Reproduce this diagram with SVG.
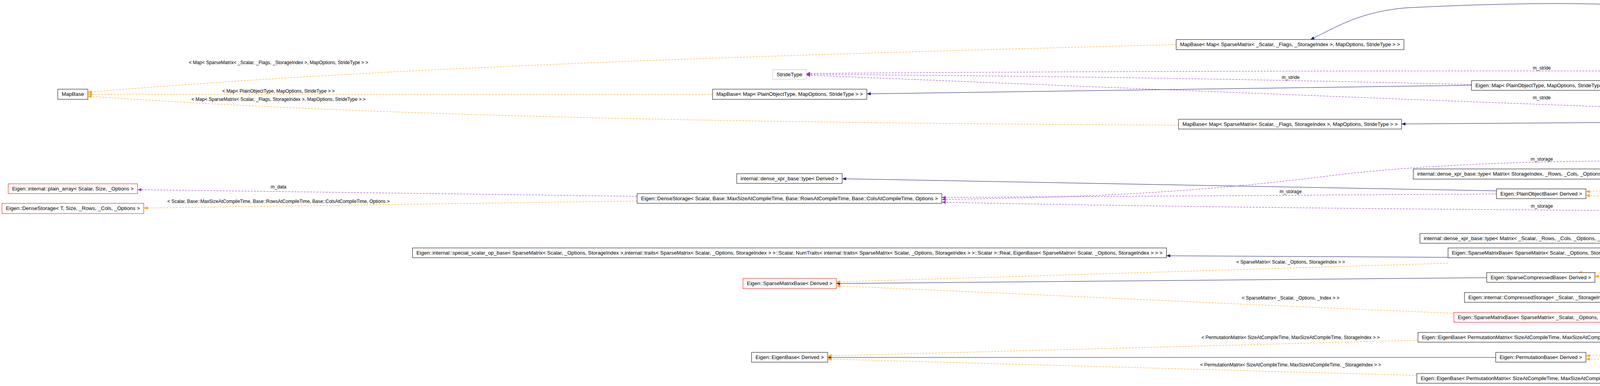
<svg xmlns="http://www.w3.org/2000/svg" width="7453" height="987" viewBox="0 0 7453 987">
<style>
.n rect{fill:#fff;stroke:#000;stroke-width:1}
.n text{font-family:"Liberation Sans",Arial,sans-serif;font-size:12px;text-anchor:middle;fill:#000}
.r rect{stroke:#f00}
.g rect{stroke:#bfbfbf}
.h rect{fill:#bfbfbf}
.e{fill:none;stroke-width:1}
.nv{stroke:#191970}
.dr{stroke:#8b1a1a}
.or{stroke:#ffa500;stroke-dasharray:5,3}
.pu{stroke:#9a32cd;stroke-dasharray:5,3}
.l{font-family:"Liberation Sans",Arial,sans-serif;font-size:12px;text-anchor:middle;fill:#000}
</style>
<defs>
<marker id="anv" viewBox="0 0 10 8" refX="10" refY="4" markerWidth="10" markerHeight="8" markerUnits="userSpaceOnUse" orient="auto"><path d="M0,0L10,4L0,8z" fill="#191970"/></marker>
<marker id="adr" viewBox="0 0 10 8" refX="10" refY="4" markerWidth="10" markerHeight="8" markerUnits="userSpaceOnUse" orient="auto"><path d="M0,0L10,4L0,8z" fill="#8b1a1a"/></marker>
<marker id="aor" viewBox="0 0 10 8" refX="10" refY="4" markerWidth="10" markerHeight="8" markerUnits="userSpaceOnUse" orient="auto"><path d="M0,0L10,4L0,8z" fill="#ffa500"/></marker>
<marker id="apu" viewBox="0 0 10 8" refX="10" refY="4" markerWidth="10" markerHeight="8" markerUnits="userSpaceOnUse" orient="auto"><path d="M0,0L10,4L0,8z" fill="#9a32cd"/></marker>
</defs>
<rect width="7453" height="987" fill="#fff"/>
<g id="edges">
<path class="e nv" marker-end="url(#anv)" d="M5050,205 C4900,200 4870,190 4830,160 C4600,-10 4000,0 3600,20 C3480,30 3420,70 3355,101"/>
<path class="e nv" marker-end="url(#anv)" d="M3767,218 L2219,240"/>
<path class="e nv" marker-end="url(#anv)" d="M4983,307 L3588,317"/>
<path class="e nv" marker-end="url(#anv)" d="M5720,281 C5500,260 5400,230 5241,206"/>
<path class="e nv" marker-end="url(#anv)" d="M6576,341 L5366,313"/>
<path class="e nv" marker-end="url(#anv)" d="M3831,488 L2156,457"/>
<path class="e nv" marker-end="url(#anv)" d="M4868,443 L4271,443"/>
<path class="e nv" marker-end="url(#anv)" d="M6634,488 L5481,447"/>
<path class="e nv" marker-end="url(#anv)" d="M5003,554 L4240,596"/>
<path class="e nv" marker-end="url(#anv)" d="M5654,515 L5407,529"/>
<path class="e nv" marker-end="url(#anv)" d="M3707,658 L2986,654"/>
<path class="e nv" marker-end="url(#anv)" d="M4917,646 L4184,656"/>
<path class="e nv" marker-end="url(#anv)" d="M6599,665 L5432,647"/>
<path class="e nv" marker-end="url(#anv)" d="M3806,710 L2141,725"/>
<path class="e nv" marker-end="url(#anv)" d="M4970,785 L4168,809"/>
<path class="e nv" marker-end="url(#anv)" d="M5727,759 L5417,767"/>
<path class="e nv" marker-end="url(#anv)" d="M3829,914 L2119,914"/>
<path class="e nv" marker-end="url(#anv)" d="M4841,846 L4260,858"/>
<path class="e nv" marker-end="url(#anv)" d="M6576,828 L5508,840"/>
<path class="e nv" marker-end="url(#anv)" d="M4837,938 L4262,957"/>
<path class="e nv" marker-end="url(#anv)" d="M5697,889 L5358,913"/>
<path class="e nv" marker-end="url(#anv)" d="M7277,435 C7200,350 7100,250 6897,206"/>
<path class="e nv" marker-end="url(#anv)" d="M7262,435 C7150,370 7080,330 7040,315 C6980,295 6920,290 6863,283"/>
<path class="e dr" marker-end="url(#adr)" d="M5764,183 L5268,148"/>
<path class="e dr" marker-end="url(#adr)" d="M6615,179 L5268,141"/>
<path class="e or" marker-end="url(#aor)" d="M3011,114 C2000,140 1000,170 225,236"/>
<path class="e or" marker-end="url(#aor)" d="M1824,241 L225,241"/>
<path class="e or" marker-end="url(#aor)" d="M3017,320 C2000,315 1000,300 225,246"/>
<path class="e or" marker-end="url(#aor)" d="M1631,514 L368,532"/>
<path class="e or" marker-end="url(#aor)" d="M4976,197 L4124,214"/>
<path class="e or" marker-end="url(#aor)" d="M5070,293 C4700,270 4400,240 4124,226"/>
<path class="e or" marker-end="url(#aor)" d="M4930,453 L4060,490"/>
<path class="e or" marker-end="url(#aor)" d="M4884,531 L4060,500"/>
<path class="e or" marker-end="url(#aor)" d="M3707,673 L2141,721"/>
<path class="e or" marker-end="url(#aor)" d="M3722,801 C3200,780 2600,750 2141,731"/>
<path class="e or" marker-end="url(#aor)" d="M5050,654 L4083,707"/>
<path class="e or" marker-end="url(#aor)" d="M4932,782 C4600,795 4300,800 4290,770 C4280,720 4180,695 4040,697"/>
<path class="e or" marker-end="url(#aor)" d="M4985,729 L4140,755"/>
<path class="e or" marker-end="url(#aor)" d="M3630,870 L2119,910"/>
<path class="e or" marker-end="url(#aor)" d="M3627,960 L2119,918"/>
<path class="e or" marker-end="url(#aor)" d="M5040,857 L4060,910"/>
<path class="e or" marker-end="url(#aor)" d="M4837,925 L4060,918"/>
<path class="e or" marker-end="url(#aor)" d="M6550,192 L6003,192"/>
<path class="e or" marker-end="url(#aor)" d="M6521,260 L6055,247"/>
<path class="e or" marker-end="url(#aor)" d="M6580,331 L6081,303"/>
<path class="e or" marker-end="url(#aor)" d="M6634,500 L6113,501"/>
<path class="e or" marker-end="url(#aor)" d="M6720,680 C6550,730 6300,755 6041,755"/>
<path class="e or" marker-end="url(#aor)" d="M6675,838 L6159,873"/>
<path class="e or" marker-end="url(#aor)" d="M6567,910 L6096,922"/>
<path class="e pu" marker-end="url(#apu)" d="M3767,216 C3300,205 2800,195 2064,190"/>
<path class="e pu" marker-end="url(#apu)" d="M4976,184 C4200,180 3000,180 2064,188"/>
<path class="e pu" marker-end="url(#apu)" d="M4983,302 C4200,280 3000,230 2064,192"/>
<path class="e pu" marker-end="url(#apu)" d="M1631,502 L352,485"/>
<path class="e pu" marker-end="url(#apu)" d="M3831,496 L2411,505"/>
<path class="e pu" marker-end="url(#apu)" d="M4950,428 C4400,405 3800,400 3400,450 C3000,500 2700,505 2411,510"/>
<path class="e pu" marker-end="url(#apu)" d="M4884,541 C4000,540 3000,530 2411,517"/>
<path class="e pu" marker-end="url(#apu)" d="M6599,673 C6000,685 5600,700 5363,715"/>
<path class="e pu" marker-end="url(#apu)" d="M5727,748 L5363,731"/>
<path class="e pu" marker-end="url(#apu)" d="M7260,435 C7150,410 7050,390 6925,357"/>
<path class="e pu" marker-end="url(#apu)" d="M7180,435 C7100,425 7000,418 6925,411"/>
<path class="e pu" marker-end="url(#apu)" d="M7137,447 L6859,447"/>
<path class="e pu" marker-end="url(#apu)" d="M7180,460 C7100,468 7000,478 6908,485"/>
<path class="e pu" marker-end="url(#apu)" d="M7260,460 C7100,540 6900,600 6805,655"/>
<path class="e pu" marker-end="url(#apu)" d="M7270,460 C7150,580 7000,720 6805,812"/>
<path class="e pu" marker-end="url(#apu)" d="M7285,460 C7230,650 7150,850 6940,889"/>
</g>
<g id="labels">
<text class="l" x="713" y="164">&lt; Map&lt; SparseMatrix&lt; _Scalar, _Flags, _StorageIndex &gt;, MapOptions, StrideType &gt; &gt;</text>
<text class="l" x="713" y="237">&lt; Map&lt; PlainObjectType, MapOptions, StrideType &gt; &gt;</text>
<text class="l" x="713" y="258">&lt; Map&lt; SparseMatrix&lt; Scalar, _Flags, StorageIndex &gt;, MapOptions, StrideType &gt; &gt;</text>
<text class="l" x="713" y="482">m_data</text>
<text class="l" x="713" y="519">&lt; Scalar, Base::MaxSizeAtCompileTime, Base::RowsAtCompileTime, Base::ColsAtCompileTime, Options &gt;</text>
<text class="l" x="3304" y="202">m_stride</text>
<text class="l" x="3304" y="494">m_storage</text>
<text class="l" x="3304" y="674">&lt; SparseMatrix&lt; Scalar, _Options, StorageIndex &gt; &gt;</text>
<text class="l" x="3304" y="766">&lt; SparseMatrix&lt; _Scalar, _Options, _Index &gt; &gt;</text>
<text class="l" x="3304" y="867">&lt; PermutationMatrix&lt; SizeAtCompileTime, MaxSizeAtCompileTime, StorageIndex &gt; &gt;</text>
<text class="l" x="3304" y="937">&lt; PermutationMatrix&lt; SizeAtCompileTime, MaxSizeAtCompileTime, _StorageIndex &gt; &gt;</text>
<text class="l" x="3947" y="178">m_stride</text>
<text class="l" x="4555" y="195">&lt; SparseMatrix&lt; _Scalar, _Flags, _StorageIndex &gt; &gt;</text>
<text class="l" x="4555" y="231">&lt; SparseMatrix&lt; Scalar, _Flags, StorageIndex &gt; &gt;</text>
<text class="l" x="3947" y="254">m_stride</text>
<text class="l" x="3947" y="411">m_storage</text>
<text class="l" x="4555" y="455">&lt; Matrix&lt; StorageIndex, _Rows, _Cols, _Options, _MaxRows, _MaxCols &gt; &gt;</text>
<text class="l" x="4555" y="506">&lt; Matrix&lt; _Scalar, _Rows, _Cols, _Options, _MaxRows, _MaxCols &gt; &gt;</text>
<text class="l" x="3947" y="531">m_storage</text>
<text class="l" x="4555" y="672">&lt; SparseMatrix&lt; Scalar, _Options, StorageIndex &gt; &gt;</text>
<text class="l" x="4555" y="730">&lt; Scalar, StorageIndex &gt;</text>
<text class="l" x="4555" y="765">&lt; SparseMatrix&lt; _Scalar, _Options, _Index &gt; &gt;</text>
<text class="l" x="4555" y="873">&lt; PermutationMatrix&lt; SizeAtCompileTime, MaxSizeAtCompileTime, StorageIndex &gt; &gt;</text>
<text class="l" x="4555" y="919">&lt; PermutationMatrix&lt; SizeAtCompileTime, MaxSizeAtCompileTime, _StorageIndex &gt; &gt;</text>
<text class="l" x="6341" y="188">&lt; SparseLU&lt; _MatrixType, _OrderingType &gt; &gt;</text>
<text class="l" x="6341" y="248">&lt; _MatrixType::Scalar, _MatrixType::StorageIndex &gt;</text>
<text class="l" x="6341" y="306">&lt; Scalar, ColMajor, StorageIndex &gt;</text>
<text class="l" x="6341" y="495">&lt; StorageIndex, Dynamic, 1 &gt;</text>
<text class="l" x="5886" y="686">m_data</text>
<text class="l" x="5562" y="737">m_data</text>
<text class="l" x="6341" y="723">&lt; Scalar, ColMajor, StorageIndex &gt;</text>
<text class="l" x="6341" y="854">&lt; Dynamic, Dynamic, StorageIndex &gt;</text>
<text class="l" x="6341" y="907">&lt; Scalar, StorageIndex &gt;</text>
<text class="l" x="7082" y="375">m_Ustore</text>
<text class="l" x="7082" y="419">m_glu</text>
<text class="l" x="7082" y="443">m_perfv</text>
<text class="l" x="7082" y="463">m_etree</text>
<text class="l" x="7082" y="523">m_mat</text>
<text class="l" x="7082" y="608">m_perm_r</text>
<text class="l" x="7082" y="623">m_perm_c</text>
<text class="l" x="7082" y="769">m_Lstore</text>
</g>
<g id="n1" class="n"><rect x="148" y="228" width="77" height="26"/><text x="186.5" y="245" textLength="57" lengthAdjust="spacingAndGlyphs">MapBase</text></g>
<g id="n2" class="n r"><rect x="21" y="470" width="331" height="25"/><text x="186.5" y="487" textLength="311" lengthAdjust="spacingAndGlyphs">Eigen::internal::plain_array&lt; Scalar, Size, _Options &gt;</text></g>
<g id="n3" class="n r"><rect x="5" y="520" width="363" height="26"/><text x="186.5" y="537" textLength="343" lengthAdjust="spacingAndGlyphs">Eigen::DenseStorage&lt; T, Size, _Rows, _Cols, _Options &gt;</text></g>
<g id="n4" class="n"><rect x="1056" y="634" width="1930" height="25"/><text x="2021" y="651" textLength="1910" lengthAdjust="spacingAndGlyphs">Eigen::internal::special_scalar_op_base&lt; SparseMatrix&lt; Scalar, _Options, StorageIndex &gt;,internal::traits&lt; SparseMatrix&lt; Scalar, _Options, StorageIndex &gt; &gt;::Scalar, NumTraits&lt; internal::traits&lt; SparseMatrix&lt; Scalar, _Options, StorageIndex &gt; &gt;::Scalar &gt;::Real, EigenBase&lt; SparseMatrix&lt; Scalar, _Options, StorageIndex &gt; &gt; &gt;</text></g>
<g id="n5" class="n g"><rect x="1978" y="178" width="86" height="25"/><text x="2021" y="195" textLength="66" lengthAdjust="spacingAndGlyphs">StrideType</text></g>
<g id="n6" class="n"><rect x="1824" y="228" width="395" height="26"/><text x="2021.5" y="245" textLength="375" lengthAdjust="spacingAndGlyphs">MapBase&lt; Map&lt; PlainObjectType, MapOptions, StrideType &gt; &gt;</text></g>
<g id="n7" class="n"><rect x="1886" y="444" width="270" height="25"/><text x="2021" y="461" textLength="250" lengthAdjust="spacingAndGlyphs">internal::dense_xpr_base::type&lt; Derived &gt;</text></g>
<g id="n8" class="n"><rect x="1631" y="495" width="780" height="25"/><text x="2021" y="512" textLength="760" lengthAdjust="spacingAndGlyphs">Eigen::DenseStorage&lt; Scalar, Base::MaxSizeAtCompileTime, Base::RowsAtCompileTime, Base::ColsAtCompileTime, Options &gt;</text></g>
<g id="n9" class="n r"><rect x="1902" y="712" width="239" height="26"/><text x="2021.5" y="729" textLength="219" lengthAdjust="spacingAndGlyphs">Eigen::SparseMatrixBase&lt; Derived &gt;</text></g>
<g id="n10" class="n"><rect x="1924" y="901" width="195" height="25"/><text x="2021.5" y="918" textLength="175" lengthAdjust="spacingAndGlyphs">Eigen::EigenBase&lt; Derived &gt;</text></g>
<g id="n11" class="n"><rect x="3011" y="101" width="583" height="26"/><text x="3302.5" y="118" textLength="563" lengthAdjust="spacingAndGlyphs">MapBase&lt; Map&lt; SparseMatrix&lt; _Scalar, _Flags, _StorageIndex &gt;, MapOptions, StrideType &gt; &gt;</text></g>
<g id="n12" class="n"><rect x="3767" y="206" width="357" height="25"/><text x="3945.5" y="223" textLength="337" lengthAdjust="spacingAndGlyphs">Eigen::Map&lt; PlainObjectType, MapOptions, StrideType &gt;</text></g>
<g id="n13" class="n"><rect x="3017" y="305" width="571" height="25"/><text x="3302.5" y="322" textLength="551" lengthAdjust="spacingAndGlyphs">MapBase&lt; Map&lt; SparseMatrix&lt; Scalar, _Flags, StorageIndex &gt;, MapOptions, StrideType &gt; &gt;</text></g>
<g id="n14" class="n"><rect x="3618" y="432" width="653" height="26"/><text x="3944.5" y="449" textLength="633" lengthAdjust="spacingAndGlyphs">internal::dense_xpr_base::type&lt; Matrix&lt; StorageIndex, _Rows, _Cols, _Options, _MaxRows, _MaxCols &gt; &gt;</text></g>
<g id="n15" class="n"><rect x="3831" y="483" width="229" height="25"/><text x="3945.5" y="500" textLength="209" lengthAdjust="spacingAndGlyphs">Eigen::PlainObjectBase&lt; Derived &gt;</text></g>
<g id="n16" class="n"><rect x="3635" y="597" width="620" height="25"/><text x="3945" y="614" textLength="600" lengthAdjust="spacingAndGlyphs">internal::dense_xpr_base::type&lt; Matrix&lt; _Scalar, _Rows, _Cols, _Options, _MaxRows, _MaxCols &gt; &gt;</text></g>
<g id="n17" class="n"><rect x="3707" y="634" width="477" height="25"/><text x="3945.5" y="651" textLength="457" lengthAdjust="spacingAndGlyphs">Eigen::SparseMatrixBase&lt; SparseMatrix&lt; Scalar, _Options, StorageIndex &gt; &gt;</text></g>
<g id="n18" class="n"><rect x="3806" y="697" width="277" height="25"/><text x="3944.5" y="714" textLength="257" lengthAdjust="spacingAndGlyphs">Eigen::SparseCompressedBase&lt; Derived &gt;</text></g>
<g id="n19" class="n"><rect x="3749" y="748" width="391" height="25"/><text x="3944.5" y="765" textLength="371" lengthAdjust="spacingAndGlyphs">Eigen::internal::CompressedStorage&lt; _Scalar, _StorageIndex &gt;</text></g>
<g id="n20" class="n r"><rect x="3722" y="799" width="446" height="25"/><text x="3945" y="816" textLength="426" lengthAdjust="spacingAndGlyphs">Eigen::SparseMatrixBase&lt; SparseMatrix&lt; _Scalar, _Options, _Index &gt; &gt;</text></g>
<g id="n21" class="n"><rect x="3630" y="850" width="630" height="25"/><text x="3945" y="867" textLength="610" lengthAdjust="spacingAndGlyphs">Eigen::EigenBase&lt; PermutationMatrix&lt; SizeAtCompileTime, MaxSizeAtCompileTime, StorageIndex &gt; &gt;</text></g>
<g id="n22" class="n"><rect x="3829" y="901" width="231" height="25"/><text x="3944.5" y="918" textLength="211" lengthAdjust="spacingAndGlyphs">Eigen::PermutationBase&lt; Derived &gt;</text></g>
<g id="n23" class="n"><rect x="3627" y="955" width="635" height="25"/><text x="3944.5" y="972" textLength="615" lengthAdjust="spacingAndGlyphs">Eigen::EigenBase&lt; PermutationMatrix&lt; SizeAtCompileTime, MaxSizeAtCompileTime, _StorageIndex &gt; &gt;</text></g>
<g id="n24" class="n"><rect x="5081" y="128" width="187" height="26"/><text x="5174.5" y="145" textLength="167" lengthAdjust="spacingAndGlyphs">Eigen::internal::noncopyable</text></g>
<g id="n25" class="n"><rect x="4976" y="179" width="396" height="26"/><text x="5174" y="196" textLength="376" lengthAdjust="spacingAndGlyphs">Eigen::Map&lt; SparseMatrix&lt; _Scalar, _Flags, _StorageIndex &gt; &gt;</text></g>
<g id="n26" class="n"><rect x="4983" y="293" width="383" height="25"/><text x="5174.5" y="310" textLength="363" lengthAdjust="spacingAndGlyphs">Eigen::Map&lt; SparseMatrix&lt; Scalar, _Flags, StorageIndex &gt; &gt;</text></g>
<g id="n27" class="n"><rect x="4868" y="428" width="613" height="25"/><text x="5174.5" y="445" textLength="593" lengthAdjust="spacingAndGlyphs">Eigen::PlainObjectBase&lt; Matrix&lt; StorageIndex, _Rows, _Cols, _Options, _MaxRows, _MaxCols &gt; &gt;</text></g>
<g id="n28" class="n"><rect x="4884" y="529" width="581" height="25"/><text x="5174.5" y="546" textLength="561" lengthAdjust="spacingAndGlyphs">Eigen::PlainObjectBase&lt; Matrix&lt; _Scalar, _Rows, _Cols, _Options, _MaxRows, _MaxCols &gt; &gt;</text></g>
<g id="n29" class="n"><rect x="4917" y="629" width="515" height="25"/><text x="5174.5" y="646" textLength="495" lengthAdjust="spacingAndGlyphs">Eigen::SparseCompressedBase&lt; SparseMatrix&lt; Scalar, _Options, StorageIndex &gt; &gt;</text></g>
<g id="n30" class="n"><rect x="4985" y="709" width="378" height="25"/><text x="5174" y="726" textLength="358" lengthAdjust="spacingAndGlyphs">Eigen::internal::CompressedStorage&lt; Scalar, StorageIndex &gt;</text></g>
<g id="n31" class="n"><rect x="4932" y="760" width="485" height="25"/><text x="5174.5" y="777" textLength="465" lengthAdjust="spacingAndGlyphs">Eigen::SparseCompressedBase&lt; SparseMatrix&lt; _Scalar, _Options, _Index &gt; &gt;</text></g>
<g id="n32" class="n"><rect x="4841" y="832" width="667" height="25"/><text x="5174.5" y="849" textLength="647" lengthAdjust="spacingAndGlyphs">Eigen::PermutationBase&lt; PermutationMatrix&lt; SizeAtCompileTime, MaxSizeAtCompileTime, StorageIndex &gt; &gt;</text></g>
<g id="n33" class="n"><rect x="4837" y="912" width="675" height="26"/><text x="5174.5" y="929" textLength="655" lengthAdjust="spacingAndGlyphs">Eigen::PermutationBase&lt; PermutationMatrix&lt; SizeAtCompileTime, MaxSizeAtCompileTime, _StorageIndex &gt; &gt;</text></g>
<g id="n34" class="n"><rect x="5764" y="179" width="239" height="26"/><text x="5883.5" y="196" textLength="219" lengthAdjust="spacingAndGlyphs">Eigen::SparseSolverBase&lt; Derived &gt;</text></g>
<g id="n35" class="n"><rect x="5712" y="230" width="343" height="25"/><text x="5883.5" y="247" textLength="323" lengthAdjust="spacingAndGlyphs">Eigen::internal::SparseLUImpl&lt; Scalar, StorageIndex &gt;</text></g>
<g id="n36" class="n"><rect x="5687" y="281" width="394" height="25"/><text x="5884" y="298" textLength="374" lengthAdjust="spacingAndGlyphs">Eigen::MappedSparseMatrix&lt; _Scalar, _Flags, _StorageIndex &gt;</text></g>
<g id="n37" class="n"><rect x="5654" y="490" width="459" height="25"/><text x="5883.5" y="507" textLength="439" lengthAdjust="spacingAndGlyphs">Eigen::Matrix&lt; _Scalar, _Rows, _Cols, _Options, _MaxRows, _MaxCols &gt;</text></g>
<g id="n38" class="n"><rect x="5727" y="743" width="314" height="25"/><text x="5884" y="760" textLength="294" lengthAdjust="spacingAndGlyphs">Eigen::SparseMatrix&lt; _Scalar, _Options, _Index &gt;</text></g>
<g id="n39" class="n"><rect x="5608" y="863" width="551" height="25"/><text x="5883.5" y="880" textLength="531" lengthAdjust="spacingAndGlyphs">Eigen::PermutationMatrix&lt; SizeAtCompileTime, MaxSizeAtCompileTime, _StorageIndex &gt;</text></g>
<g id="n40" class="n"><rect x="5673" y="913" width="423" height="25"/><text x="5884.5" y="930" textLength="403" lengthAdjust="spacingAndGlyphs">Eigen::internal::MappedSuperNodalMatrix&lt; _Scalar, _StorageIndex &gt;</text></g>
<g id="n41" class="n"><rect x="6550" y="179" width="444" height="26"/><text x="6772" y="196" textLength="424" lengthAdjust="spacingAndGlyphs">Eigen::SparseSolverBase&lt; SparseLU&lt; _MatrixType, _OrderingType &gt; &gt;</text></g>
<g id="n42" class="n"><rect x="6521" y="255" width="502" height="25"/><text x="6772" y="272" textLength="482" lengthAdjust="spacingAndGlyphs">Eigen::internal::SparseLUImpl&lt; _MatrixType::Scalar, _MatrixType::StorageIndex &gt;</text></g>
<g id="n43" class="n"><rect x="6576" y="331" width="391" height="25"/><text x="6771.5" y="348" textLength="371" lengthAdjust="spacingAndGlyphs">Eigen::MappedSparseMatrix&lt; Scalar, ColMajor, StorageIndex &gt;</text></g>
<g id="n44" class="n"><rect x="6583" y="385" width="378" height="25"/><text x="6772" y="402" textLength="358" lengthAdjust="spacingAndGlyphs">Eigen::internal::LU_GlobalLU_t&lt; IndexVector, ScalarVector &gt;</text></g>
<g id="n45" class="n"><rect x="6685" y="435" width="174" height="25"/><text x="6772" y="452" textLength="154" lengthAdjust="spacingAndGlyphs">Eigen::internal::perfvalues</text></g>
<g id="n46" class="n h"><rect x="7137" y="435" width="311" height="25"/><text x="7292.5" y="452" textLength="291" lengthAdjust="spacingAndGlyphs">Eigen::SparseLU&lt; _MatrixType, _OrderingType &gt;</text></g>
<g id="n47" class="n"><rect x="6634" y="485" width="274" height="25"/><text x="6771" y="502" textLength="254" lengthAdjust="spacingAndGlyphs">Eigen::Matrix&lt; StorageIndex, Dynamic, 1 &gt;</text></g>
<g id="n48" class="n"><rect x="6599" y="655" width="346" height="25"/><text x="6772" y="672" textLength="326" lengthAdjust="spacingAndGlyphs">Eigen::SparseMatrix&lt; Scalar, ColMajor, StorageIndex &gt;</text></g>
<g id="n49" class="n"><rect x="6576" y="812" width="391" height="26"/><text x="6771.5" y="829" textLength="371" lengthAdjust="spacingAndGlyphs">Eigen::PermutationMatrix&lt; Dynamic, Dynamic, StorageIndex &gt;</text></g>
<g id="n50" class="n"><rect x="6567" y="889" width="409" height="25"/><text x="6771.5" y="906" textLength="389" lengthAdjust="spacingAndGlyphs">Eigen::internal::MappedSuperNodalMatrix&lt; Scalar, StorageIndex &gt;</text></g>
</svg>
